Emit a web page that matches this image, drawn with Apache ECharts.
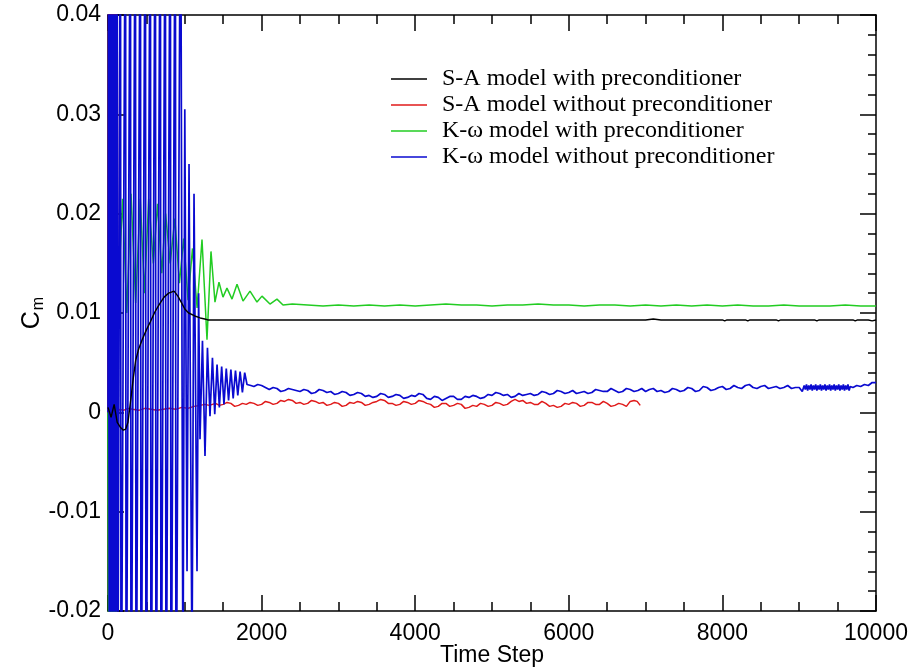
<!DOCTYPE html>
<html><head><meta charset="utf-8">
<script src="https://cdn.jsdelivr.net/npm/echarts@6/dist/echarts.min.js"></script>
<style>html,body{margin:0;padding:0;background:#fff}#c{width:915px;height:671px}</style>
</head><body><div id="c"></div>
<script>
const seriesNames = ['S-A model with preconditioner','S-A model without preconditioner','K-\u03c9 model with preconditioner','K-\u03c9 model without preconditioner'];
const xTicks = [0, 2000, 4000, 6000, 8000, 10000];
const yTicks = [-0.02, -0.01, 0, 0.01, 0.02, 0.03, 0.04];

// S-A with preconditioner [time step, Cm]
const saWith = [[0,0.0005],[40,-0.0005],[80,0.0008],[120,-0.001],[160,-0.0015],[200,-0.0018],[230,-0.0017],[260,-0.001],[300,0.0015],[330,0.0035],[360,0.0052],[400,0.0064],[450,0.0074],[500,0.0083],[550,0.0091],[610,0.0101],[670,0.0109],[730,0.0116],[790,0.012],[860,0.0122],[910,0.0117],[960,0.011],[1000,0.0104],[1050,0.01],[1130,0.0097],[1200,0.0095],[1260,0.0094],[1300,0.0093],[1450,0.0093],[1470,0.0094],[1490,0.0093],[1800,0.0093],[1820,0.0092],[1840,0.0093],[2100,0.0093],[2600,0.0093],[2620,0.0092],[2640,0.0093],[3000,0.0093],[3300,0.0093],[3320,0.0092],[3340,0.0093],[4300,0.0093],[4320,0.0092],[4340,0.0093],[4800,0.0093],[5500,0.0093],[5520,0.0092],[5540,0.0093],[6600,0.0093],[6620,0.0092],[6640,0.0093],[7000,0.0093],[7100,0.0094],[7200,0.0093],[7500,0.0093],[7520,0.0092],[7540,0.0093],[8000,0.0093],[8030,0.0092],[8060,0.0093],[8300,0.0093],[8330,0.0092],[8360,0.0093],[8700,0.0093],[8730,0.0092],[8760,0.0093],[9200,0.0093],[9230,0.0092],[9260,0.0093],[9600,0.0093],[9700,0.0093],[9730,0.0092],[9760,0.0093],[9900,0.0093],[9950,0.0092],[10000,0.0093]];

// S-A without preconditioner
const saWithout = [[0,0],[8,0.05],[16,-0.03],[24,0.05],[32,-0.01],[40,0.05],[48,-0.03],[56,0.05],[64,-0.005],[72,0.05],[80,-0.03],[88,0.05],[96,-0.002],[104,0.05],[112,-0.03],[120,0.04],[130,0],[150,0.0003],[200,0.0002],[260,0.0004],[320,0.0003],[400,0.0002],[480,0.0004],[560,0.0003],[640,0.0002],[720,0.0003],[800,0.0004],[880,0.0003],[960,0.0005],[1040,0.0004],[1120,0.0006],[1200,0.0007],[1260,0.0008],[1320,0.0007],[1400,0.0009],[1450,0.0007],[1500,0.0008],[1550,0.001],[1600,0.0009],[1650,0.0006],[1700,0.0007],[1750,0.0009],[1800,0.0008],[1850,0.001],[1900,0.0009],[1950,0.0007],[2000,0.0008],[2050,0.0011],[2100,0.001],[2150,0.0008],[2200,0.0009],[2250,0.0012],[2300,0.0011],[2350,0.0013],[2400,0.0012],[2450,0.0009],[2500,0.001],[2550,0.0008],[2600,0.0009],[2650,0.0012],[2700,0.0011],[2750,0.0009],[2800,0.001],[2850,0.0007],[2900,0.0008],[2950,0.001],[3000,0.0009],[3050,0.0006],[3100,0.0007],[3150,0.001],[3200,0.0009],[3250,0.0011],[3300,0.001],[3350,0.0007],[3400,0.0008],[3450,0.001],[3500,0.0011],[3550,0.0013],[3600,0.0012],[3650,0.0009],[3700,0.0009],[3750,0.0007],[3800,0.0008],[3850,0.0011],[3900,0.001],[3950,0.0008],[4000,0.0009],[4050,0.0012],[4100,0.0011],[4150,0.0009],[4200,0.0008],[4250,0.0005],[4300,0.0006],[4350,0.0009],[4400,0.0009],[4450,0.0006],[4500,0.0007],[4550,0.0009],[4600,0.0008],[4650,0.0004],[4700,0.0005],[4750,0.0007],[4800,0.0006],[4850,0.0009],[4900,0.0008],[4950,0.0006],[5000,0.0007],[5050,0.001],[5100,0.0009],[5150,0.0007],[5200,0.0008],[5250,0.0011],[5300,0.0013],[5350,0.0011],[5400,0.0012],[5450,0.0009],[5500,0.001],[5550,0.0008],[5600,0.0008],[5650,0.0011],[5700,0.0009],[5750,0.0006],[5800,0.0007],[5850,0.0005],[5900,0.0006],[5950,0.0009],[6000,0.0008],[6050,0.001],[6100,0.0009],[6150,0.0006],[6200,0.0007],[6250,0.001],[6300,0.001],[6350,0.0008],[6400,0.0008],[6450,0.0011],[6500,0.0009],[6550,0.0006],[6600,0.0007],[6650,0.0009],[6700,0.0008],[6750,0.0006],[6800,0.0011],[6850,0.0012],[6890,0.0011],[6930,0.0007]];

// K-omega with preconditioner
const kwWith = [[0,0],[8,-0.03],[16,0.005],[24,-0.03],[32,0.01],[40,-0.03],[48,0],[56,-0.03],[64,0.008],[72,-0.03],[80,0.002],[88,-0.03],[96,0.01],[104,-0.025],[112,0.005],[120,-0.02],[135,0.012],[190,0.0215],[245,0.01],[300,0.022],[360,0.011],[420,0.0215],[475,0.012],[530,0.0215],[590,0.015],[645,0.021],[700,0.014],[750,0.02],[810,0.015],[870,0.0195],[930,0.013],[985,0.0175],[1042,0.0113],[1100,0.0165],[1160,0.0105],[1224,0.0174],[1289,0.0073],[1341,0.0162],[1393,0.0111],[1445,0.0131],[1497,0.0116],[1549,0.0125],[1615,0.0114],[1680,0.0129],[1758,0.0112],[1849,0.0122],[1940,0.0111],[2005,0.0117],[2109,0.0109],[2200,0.0114],[2279,0.0108],[2400,0.0109],[2600,0.0108],[2800,0.0107],[3000,0.0108],[3200,0.0107],[3400,0.0108],[3600,0.0107],[3800,0.0108],[4000,0.0107],[4200,0.0108],[4400,0.0109],[4600,0.0108],[4800,0.0108],[5000,0.0107],[5200,0.0108],[5400,0.0108],[5600,0.0109],[5800,0.0108],[6000,0.0108],[6200,0.0107],[6400,0.0108],[6600,0.0108],[6800,0.0107],[7000,0.0108],[7200,0.0107],[7400,0.0108],[7600,0.0107],[7800,0.0108],[8000,0.0107],[8200,0.0108],[8400,0.0107],[8600,0.0107],[8800,0.0108],[9000,0.0107],[9200,0.0107],[9400,0.0107],[9600,0.0108],[9800,0.0107],[10000,0.0107]];

// K-omega without preconditioner
const kwWithout = [[0,0],[8,0.05],[16,-0.03],[24,0.05],[32,-0.03],[40,0.05],[48,-0.03],[56,0.05],[64,-0.03],[72,0.05],[80,-0.03],[88,0.05],[96,-0.03],[104,0.05],[112,-0.03],[120,0.05],[130,-0.03],[162,0.06],[170,-0.04],[195,-0.04],[228,0.06],[236,-0.04],[260,-0.04],[292,0.06],[300,-0.04],[325,-0.04],[357,0.06],[365,-0.04],[390,-0.04],[422,0.06],[430,-0.04],[455,-0.04],[487,0.06],[495,-0.04],[520,-0.04],[552,0.06],[560,-0.04],[585,-0.04],[617,0.06],[625,-0.04],[650,-0.04],[682,0.06],[690,-0.04],[715,-0.04],[747,0.06],[755,-0.04],[780,-0.04],[812,0.06],[820,-0.04],[845,-0.04],[877,0.06],[885,-0.04],[910,-0.04],[945,0.06],[976,-0.03],[1000,0.0305],[1029,-0.016],[1055,0.025],[1094,-0.026],[1120,0.022],[1159,-0.016],[1180,0.012],[1198,-0.0027],[1230,0.0072],[1263,-0.0044],[1295,0.0065],[1328,-0.0004],[1360,0.0055],[1390,-0.0002],[1420,0.0048],[1450,0.0005],[1480,0.0046],[1510,0.0008],[1540,0.0044],[1570,0.0012],[1600,0.0043],[1630,0.0014],[1660,0.0042],[1690,0.0017],[1720,0.0041],[1750,0.002],[1780,0.004],[1810,0.0028],[1860,0.0027],[1900,0.0026],[1950,0.0028],[2000,0.0027],[2050,0.0025],[2100,0.0023],[2150,0.0025],[2200,0.0024],[2250,0.0021],[2300,0.0022],[2350,0.0024],[2400,0.0023],[2450,0.0022],[2500,0.0021],[2550,0.0023],[2600,0.0022],[2650,0.0019],[2700,0.002],[2750,0.0023],[2800,0.0022],[2850,0.002],[2900,0.0021],[2950,0.0018],[3000,0.0019],[3050,0.0021],[3100,0.002],[3150,0.0017],[3200,0.0018],[3250,0.002],[3300,0.0019],[3350,0.0016],[3400,0.0017],[3450,0.0015],[3500,0.0016],[3550,0.0019],[3600,0.0018],[3650,0.0015],[3700,0.0016],[3750,0.0018],[3800,0.0017],[3850,0.0014],[3900,0.0015],[3950,0.0017],[4000,0.0016],[4050,0.0019],[4100,0.0018],[4150,0.0014],[4200,0.0013],[4250,0.0016],[4300,0.0015],[4350,0.0012],[4400,0.0014],[4450,0.0016],[4500,0.0016],[4550,0.0013],[4600,0.0013],[4650,0.0016],[4700,0.0015],[4750,0.0017],[4800,0.0016],[4850,0.0014],[4900,0.0015],[4950,0.0018],[5000,0.0017],[5050,0.002],[5100,0.0019],[5150,0.0017],[5200,0.0018],[5250,0.0015],[5300,0.0016],[5350,0.0019],[5400,0.0017],[5450,0.0018],[5500,0.0019],[5550,0.0017],[5600,0.0018],[5650,0.0021],[5700,0.002],[5750,0.0018],[5800,0.0019],[5850,0.0022],[5900,0.0021],[5950,0.0019],[6000,0.002],[6050,0.0022],[6100,0.0019],[6150,0.002],[6200,0.0021],[6250,0.0019],[6300,0.002],[6350,0.0023],[6400,0.0022],[6450,0.0021],[6500,0.0021],[6550,0.0024],[6600,0.0022],[6650,0.002],[6700,0.0021],[6750,0.0024],[6800,0.0023],[6850,0.0021],[6900,0.0022],[6950,0.0024],[7000,0.0021],[7050,0.0023],[7100,0.0024],[7150,0.0021],[7200,0.0022],[7250,0.002],[7300,0.0021],[7350,0.0024],[7400,0.0023],[7450,0.0021],[7500,0.0022],[7550,0.0025],[7600,0.0024],[7650,0.0021],[7700,0.0022],[7750,0.0026],[7800,0.0025],[7850,0.0022],[7900,0.0023],[7950,0.0025],[8000,0.0026],[8050,0.0023],[8100,0.0024],[8150,0.0027],[8200,0.0025],[8250,0.0024],[8300,0.0027],[8350,0.0028],[8400,0.0025],[8450,0.0024],[8500,0.0026],[8550,0.0027],[8600,0.0024],[8650,0.0025],[8700,0.0026],[8750,0.0024],[8800,0.0025],[8850,0.0027],[8900,0.0024],[8950,0.0025],[9000,0.0025],[9040,0.0021],[9050,0.0022],[9065,0.0027],[9080,0.0023],[9095,0.0028],[9110,0.0022],[9125,0.0027],[9140,0.0023],[9155,0.0028],[9170,0.0022],[9185,0.0027],[9200,0.0023],[9215,0.0028],[9230,0.0022],[9245,0.0027],[9260,0.0023],[9275,0.0028],[9290,0.0022],[9305,0.0027],[9320,0.0023],[9335,0.0028],[9350,0.0022],[9365,0.0027],[9380,0.0023],[9395,0.0028],[9410,0.0022],[9425,0.0027],[9440,0.0023],[9455,0.0028],[9470,0.0022],[9485,0.0027],[9500,0.0023],[9515,0.0028],[9530,0.0022],[9545,0.0027],[9560,0.0023],[9575,0.0028],[9590,0.0022],[9605,0.0027],[9620,0.0023],[9635,0.0028],[9650,0.0022],[9665,0.0026],[9700,0.0025],[9750,0.0027],[9800,0.0026],[9850,0.0028],[9900,0.0027],[9950,0.003],[10000,0.003]];

const colors = ['#000000', '#e01a1a', '#22cc22', '#0a0ad0'];
const seriesData = [saWith, saWithout, kwWith, kwWithout];

const tickFont = '"Liberation Sans", Arial, sans-serif';
const legendFont = '"Liberation Serif", "Times New Roman", serif';

const chart = echarts.init(document.getElementById('c'), null, {renderer: 'canvas'});

function fmtY(v) {
  const r = Math.round(v * 100) / 100;
  if (Math.abs(r) < 1e-9) return '0';
  return r.toFixed(2);
}
function fmtX(v) { return String(Math.round(v)); }

const axisCommon = {
  axisLine: {show: true, onZero: false, lineStyle: {color: '#000', width: 1.5}},
  splitLine: {show: false}
};

const option = {
  animation: false,
  backgroundColor: '#fff',
  grid: {left: 108, right: 39, top: 15, bottom: 60, containLabel: false, outerBoundsMode: 'none'},
  legend: {
    data: seriesNames,
    orient: 'vertical',
    left: 386,
    top: 61,
    icon: 'rect',
    itemWidth: 36,
    itemHeight: 1.6,
    itemGap: 0,
    textStyle: {fontFamily: legendFont, fontSize: 24, color: '#000', lineHeight: 26, padding: [0, 0, 0, 10]},
    selectedMode: false
  },
  xAxis: [
    Object.assign({}, axisCommon, {
      type: 'value', min: xTicks[0], max: xTicks[xTicks.length - 1], interval: xTicks[1] - xTicks[0],
      position: 'bottom',
      axisTick: {show: true, inside: true, length: 16, lineStyle: {color: '#000', width: 1.5}},
      minorTick: {show: true, splitNumber: 4, length: 9, lineStyle: {color: '#000', width: 1.5}},
      axisLabel: {show: true, margin: 11, color: '#000', fontFamily: tickFont, fontSize: 23, formatter: fmtX},
      name: 'Time Step', nameLocation: 'middle', nameGap: 33, nameMoveOverlap: false,
      nameTextStyle: {fontFamily: tickFont, fontSize: 23, color: '#000'}
    }),
    Object.assign({}, axisCommon, {
      type: 'value', min: xTicks[0], max: xTicks[xTicks.length - 1], interval: xTicks[1] - xTicks[0],
      position: 'top',
      axisTick: {show: true, inside: true, length: 16, lineStyle: {color: '#000', width: 1.5}},
      minorTick: {show: true, splitNumber: 4, length: 9, lineStyle: {color: '#000', width: 1.5}},
      axisLabel: {show: false}
    })
  ],
  yAxis: [
    Object.assign({}, axisCommon, {
      type: 'value', min: yTicks[0], max: yTicks[yTicks.length - 1], interval: 0.01,
      position: 'left',
      axisTick: {show: true, inside: true, length: 16, lineStyle: {color: '#000', width: 1.5}},
      minorTick: {show: true, splitNumber: 5, length: 8, lineStyle: {color: '#000', width: 1.5}},
      axisLabel: {show: true, margin: 7, color: '#000', fontFamily: tickFont, fontSize: 23, formatter: fmtY},
      name: '{c|C}{m|m}', nameLocation: 'middle', nameGap: 61, nameRotate: 90, nameMoveOverlap: false,
      nameTextStyle: {
        rich: {
          c: {fontFamily: tickFont, fontSize: 25, color: '#000'},
          m: {fontFamily: tickFont, fontSize: 16, color: '#000', padding: [14, 0, 0, 1]}
        }
      }
    }),
    Object.assign({}, axisCommon, {
      type: 'value', min: yTicks[0], max: yTicks[yTicks.length - 1], interval: 0.01,
      position: 'right',
      axisTick: {show: true, inside: true, length: 16, lineStyle: {color: '#000', width: 1.5}},
      minorTick: {show: true, splitNumber: 5, length: 8, lineStyle: {color: '#000', width: 1.5}},
      axisLabel: {show: false}
    })
  ],
  series: seriesNames.map((n, i) => ({
    name: n,
    type: 'line',
    data: seriesData[i],
    xAxisIndex: 0,
    yAxisIndex: 0,
    symbol: 'none',
    showSymbol: false,
    clip: true,
    z: i === 0 ? 6 : (i === 3 ? 4 : 3),
    lineStyle: {color: colors[i], width: i === 0 ? 1.4 : (i === 3 ? 1.7 : 1.5)},
    itemStyle: {color: colors[i]}
  }))
};
chart.setOption(option);
</script>
</body></html>
